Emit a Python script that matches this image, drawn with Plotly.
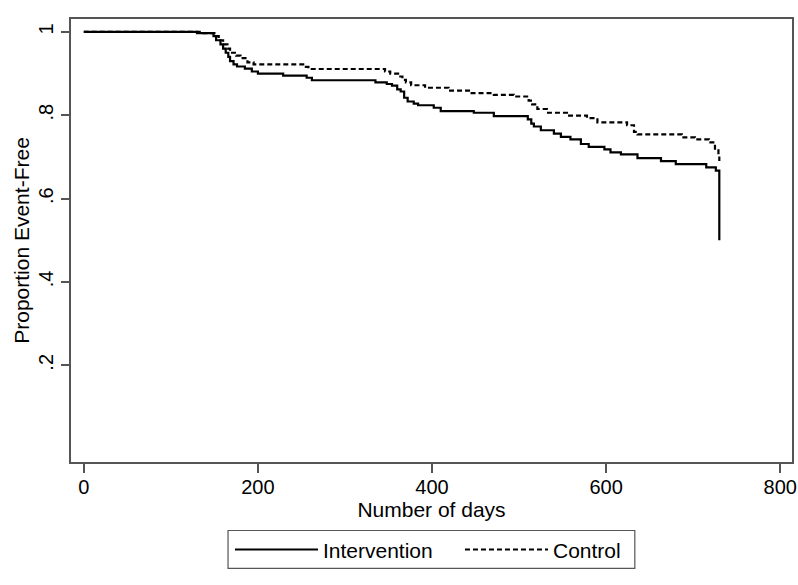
import plotly.graph_objects as go

# Kaplan-Meier step data
int_days = [0, 130, 149, 152, 157, 160, 163, 166, 168, 172, 176, 185, 193, 200, 229, 256, 262,
            335, 348, 354, 360, 364, 368, 372, 379, 384, 402, 410, 448, 471, 510, 514, 517, 525,
            540, 548, 559, 571, 580, 598, 605, 617, 636, 663, 680, 715, 726, 730]
int_surv = [1.0, 0.997, 0.99, 0.98, 0.97, 0.96, 0.95, 0.94, 0.93, 0.922, 0.917, 0.912, 0.905, 0.90,
            0.895, 0.89, 0.884, 0.879, 0.875, 0.871, 0.862, 0.857, 0.842, 0.833, 0.828, 0.824,
            0.818, 0.81, 0.806, 0.798, 0.79, 0.78, 0.773, 0.764, 0.756, 0.748, 0.742, 0.731,
            0.724, 0.718, 0.711, 0.706, 0.697, 0.690, 0.683, 0.675, 0.667, 0.50]

ctl_days = [0, 137, 150, 155, 160, 165, 168, 175, 180, 188, 195, 252, 258, 346, 352, 361, 366,
            370, 376, 392, 419, 444, 471, 494, 511, 515, 521, 532, 555, 578, 590, 624, 632, 636,
            687, 702, 718, 725, 729, 730]
ctl_surv = [1.0, 0.997, 0.99, 0.98, 0.97, 0.96, 0.95, 0.943, 0.937, 0.927, 0.922, 0.916, 0.911,
            0.905, 0.90, 0.893, 0.885, 0.879, 0.872, 0.866, 0.859, 0.853, 0.849, 0.845, 0.835,
            0.826, 0.815, 0.806, 0.799, 0.793, 0.783, 0.776, 0.76, 0.754, 0.747, 0.742, 0.735,
            0.72, 0.705, 0.69]

x_ticks = [0, 200, 400, 600, 800]
y_ticks = [0.2, 0.4, 0.6, 0.8, 1.0]
y_tick_labels = [".2", ".4", ".6", ".8", "1"]

FONT = "Liberation Sans, Arial, sans-serif"
AX = "#555555"

fig = go.Figure()
fig.add_trace(go.Scatter(x=int_days, y=int_surv, mode="lines", name="Intervention",
                         legend="legend",
                         line=dict(color="black", width=2.2, shape="hv")))
fig.add_trace(go.Scatter(x=ctl_days, y=ctl_surv, mode="lines", name="Control",
                         legend="legend2",
                         line=dict(color="black", width=2.2, shape="hv", dash="5px,3px")))

leg_common = dict(orientation="h", y=-0.152, yanchor="top", xanchor="left",
                  bgcolor="rgba(0,0,0,0)", borderwidth=0,
                  font=dict(size=21, family=FONT), itemwidth=83)

fig.update_layout(
    width=798, height=585,
    margin=dict(l=71, r=6, t=19, b=122.5, autoexpand=False),
    paper_bgcolor="white", plot_bgcolor="white",
    font=dict(family=FONT, color="black"),
    showlegend=True,
    legend=dict(x=0.2205, **leg_common),
    legend2=dict(x=0.5395, **leg_common),
    shapes=[dict(type="rect", xref="paper", yref="paper",
                 x0=0.2178, x1=0.782, y0=-0.2403, y1=-0.1546,
                 line=dict(color=AX, width=1.2), fillcolor="rgba(0,0,0,0)")],
    xaxis=dict(range=[-14.7, 813.5], tickvals=x_ticks, ticks="outside", ticklen=9,
               tickcolor=AX, tickwidth=1.5, showline=True, linecolor=AX, linewidth=1.5,
               mirror=True, showgrid=False, zeroline=False, automargin=False,
               tickfont=dict(size=20, family=FONT), ticklabelstandoff=-3,
               title=dict(text="Number of days", font=dict(size=21, family=FONT), standoff=0)),
    yaxis=dict(range=[-0.032, 1.031], tickvals=y_ticks, ticktext=y_tick_labels,
               ticks="outside", ticklen=8, tickcolor=AX, tickwidth=1.5, tickangle=-90,
               showline=True, linecolor=AX, linewidth=1.5, mirror=True, automargin=False,
               showgrid=False, zeroline=False, tickfont=dict(size=20, family=FONT),
               title=dict(text="Proportion Event-Free", font=dict(size=21, family=FONT),
                          standoff=0)),
)

fig.write_html("out.html", config={"displayModeBar": False},
               post_script="document.body.style.margin='0px';"
                           "document.body.style.overflow='hidden';")
